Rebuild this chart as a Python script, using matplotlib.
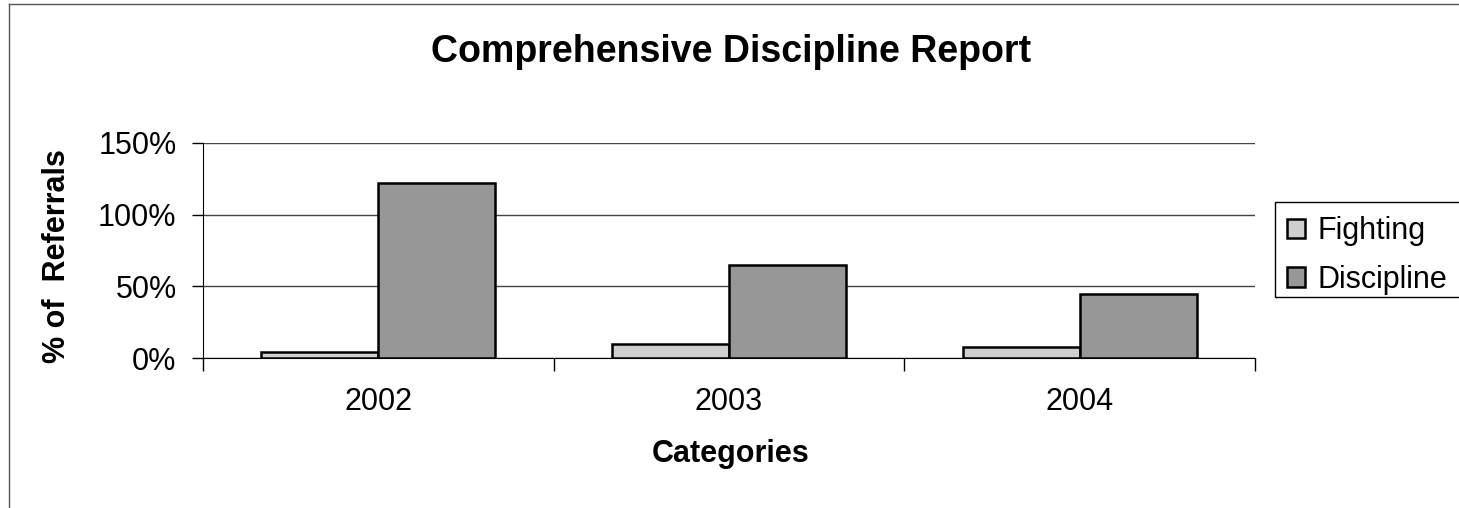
import matplotlib
matplotlib.use("Agg")
import matplotlib.pyplot as plt
from matplotlib.patches import Rectangle
import numpy as np
from matplotlib.ticker import FuncFormatter

categories = ["2002", "2003", "2004"]
fighting = [0.04, 0.10, 0.08]
discipline = [1.22, 0.65, 0.45]
yticks = [0, 0.5, 1.0, 1.5]

plt.rcParams['font.family'] = ['Liberation Sans', 'DejaVu Sans']

W, H = 1459, 508
fig = plt.figure(figsize=(W/100, H/100), dpi=100)
ax = fig.add_axes([203/W, 1-358/H, (1255-203)/W, (358-143)/H])

x = np.arange(len(categories))
bw = 1/3
ax.bar(x - bw/2, fighting, bw, color='#cfcfcf', edgecolor='black', linewidth=1.8, label='Fighting', zorder=3)
ax.bar(x + bw/2, discipline, bw, color='#979797', edgecolor='black', linewidth=1.8, label='Discipline', zorder=3)

ax.set_xlim(-0.5, len(categories) - 0.5)
ax.set_ylim(0, 1.5)
ax.set_yticks(yticks)
ax.yaxis.set_major_formatter(FuncFormatter(lambda v, p: f"{v*100:.0f}%"))
ax.yaxis.grid(True, color='#444444', linewidth=1.0, zorder=0)
ax.set_axisbelow(True)

# x ticks at category boundaries, labels at centers
ax.set_xticks(np.arange(-0.5, len(categories)), minor=False)
ax.set_xticklabels([])
ax.set_xticks(x, minor=True)
ax.set_xticklabels(categories, minor=True)
ax.tick_params(axis='x', which='major', direction='out', length=9, width=1, color='black')
ax.tick_params(axis='x', which='minor', length=0, pad=21, labelsize=22)
ax.tick_params(axis='y', direction='out', length=8, width=1, labelsize=22, pad=11)

for s in ['top', 'right']:
    ax.spines[s].set_visible(False)
ax.spines['left'].set_color('black')
ax.spines['bottom'].set_color('black')

fig.text(731/W, 1-462/H, 'Categories', ha='center', va='baseline',
         fontsize=22, fontweight='bold')
fig.text(57/W, 1-256/H, '% of  Referrals', ha='center', va='center', rotation=90,
         fontsize=22, fontweight='bold')

fig.text(731/W, 1-62/H, 'Comprehensive Discipline Report', ha='center', va='baseline',
         fontsize=27, fontweight='bold')

leg = fig.legend(loc='upper left', bbox_to_anchor=(1287/W, 1-216/H), fontsize=22,
                 frameon=False, handlelength=0.6,
                 handleheight=0.6, handletextpad=0.4, borderpad=0.0, labelspacing=0.61,
                 borderaxespad=0)
fig.add_artist(Rectangle((1275/W, 1-297/H), 200/W, 95/H, transform=fig.transFigure,
                         facecolor='none', edgecolor='black', linewidth=1.0))

# outer border (top and left visible)
fig.add_artist(plt.Line2D([9/W, 9/W], [0, 1-4/H], transform=fig.transFigure, color='#555555', linewidth=1))
fig.add_artist(plt.Line2D([9/W, 1], [1-4/H, 1-4/H], transform=fig.transFigure, color='#555555', linewidth=1))

fig.savefig('out.png', dpi=100)
